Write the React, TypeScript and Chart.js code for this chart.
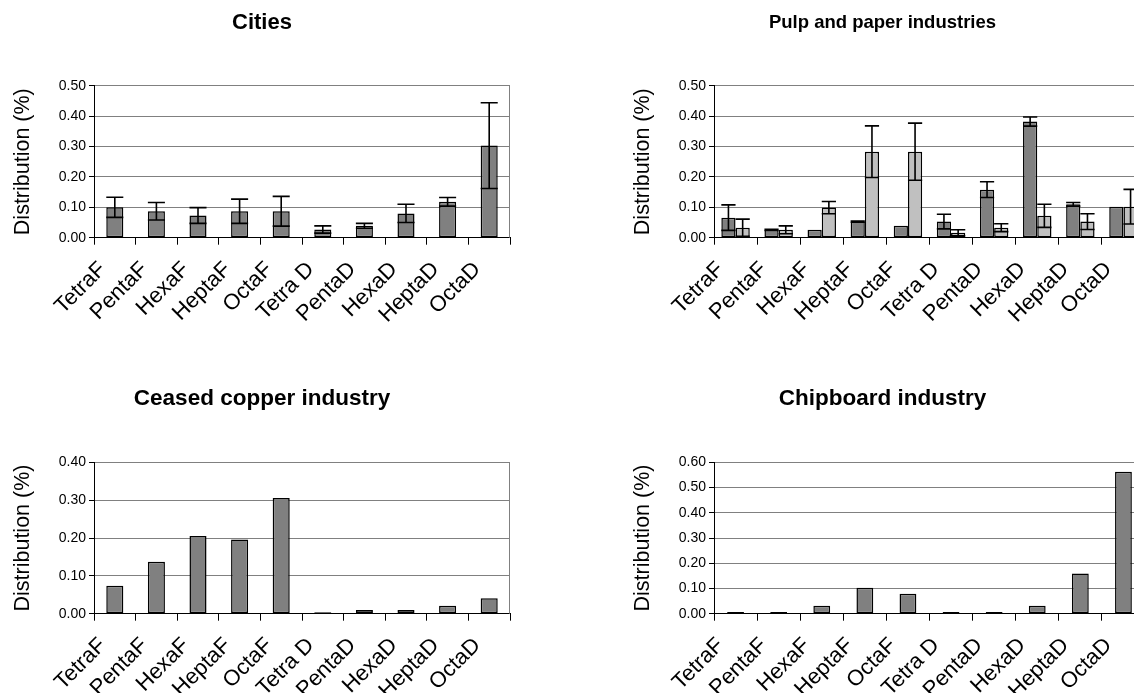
import React, { useEffect, useRef } from "react";
import { Chart, registerables } from "chart.js";

Chart.register(...registerables);

// ---------- data ----------
const categories = ["TetraF", "PentaF", "HexaF", "HeptaF", "OctaF", "Tetra D", "PentaD", "HexaD", "HeptaD", "OctaD"];

const citiesValues = [0.1, 0.087, 0.073, 0.087, 0.087, 0.027, 0.039, 0.08, 0.118, 0.303];
const citiesErrors = [0.033, 0.029, 0.026, 0.04, 0.049, 0.012, 0.008, 0.03, 0.014, 0.141];

const pulpSeriesA = [0.066, 0.026, 0.026, 0.053, 0.039, 0.053, 0.158, 0.382, 0.11, 0.102];
const pulpErrorsA = [0.042, 0.002, 0, 0.002, 0, 0.024, 0.026, 0.015, 0.006, 0];
const pulpSeriesB = [0.033, 0.026, 0.099, 0.283, 0.283, 0.016, 0.033, 0.072, 0.053, 0.102];
const pulpErrorsB = [0.028, 0.013, 0.02, 0.085, 0.094, 0.01, 0.013, 0.038, 0.026, 0.057];

const copperValues = [0.074, 0.137, 0.205, 0.196, 0.306, 0.004, 0.01, 0.01, 0.021, 0.041];

const chipboardValues = [0.007, 0.007, 0.032, 0.103, 0.079, 0.007, 0.007, 0.032, 0.159, 0.563];

const yAxisTitle = "Distribution (%)";

// ---------- styling ----------
const FONT = "'Liberation Sans', Arial, Helvetica, sans-serif";
const DARK = "#808080";
const LIGHT = "#C0C0C0";

const errorBarPlugin = {
  id: "errorBars",
  afterDatasetsDraw(chart: any) {
    const ctx = chart.ctx;
    const yScale = chart.scales.y;
    chart.data.datasets.forEach((ds: any, di: number) => {
      const errs: number[] | undefined = ds.errors;
      if (!errs) return;
      const meta = chart.getDatasetMeta(di);
      meta.data.forEach((bar: any, i: number) => {
        const e = errs[i];
        if (!e) return;
        const v = ds.data[i];
        const yTop = yScale.getPixelForValue(v + e);
        const yBot = yScale.getPixelForValue(Math.max(v - e, 0));
        const { x, width } = bar.getProps(["x", "width"], true);
        const half = width / 2;
        ctx.save();
        ctx.strokeStyle = "#000";
        ctx.lineWidth = 1.6;
        ctx.beginPath();
        ctx.moveTo(x, yTop);
        ctx.lineTo(x, yBot);
        ctx.moveTo(x - half, yTop);
        ctx.lineTo(x + half, yTop);
        ctx.moveTo(x - half, yBot);
        ctx.lineTo(x + half, yBot);
        ctx.stroke();
        ctx.restore();
      });
    });
  },
};

const plotBorderPlugin = {
  id: "plotBorder",
  beforeDatasetsDraw(chart: any) {
    const { ctx, chartArea } = chart;
    ctx.save();
    ctx.strokeStyle = "#808080";
    ctx.lineWidth = 1;
    const x = Math.round(chartArea.right) - 0.5;
    ctx.beginPath();
    ctx.moveTo(x, chartArea.top);
    ctx.lineTo(x, chartArea.bottom);
    ctx.stroke();
    ctx.restore();
  },
};

type PanelProps = {
  left: number;
  top: number;
  width: number;
  height: number;
  title: string;
  titleSize: number;
  titlePadTop: number;
  titlePadBottom: number;
  xAxisHeight: number;
  plotRightPad: number;
  labelOffset: number;
  yMax: number;
  datasets: any[];
  categoryPercentage: number;
  barPercentage: number;
};

function Panel(p: PanelProps) {
  const ref = useRef<HTMLCanvasElement | null>(null);
  useEffect(() => {
    if (!ref.current) return;
    const chart = new Chart(ref.current, {
      type: "bar",
      data: {
        labels: categories,
        datasets: p.datasets.map((d) => ({
          ...d,
          borderColor: "#000",
          borderWidth: 1.5,
          borderSkipped: false,
          categoryPercentage: p.categoryPercentage,
          barPercentage: p.barPercentage,
        })),
      },
      options: {
        responsive: false,
        animation: false,
        devicePixelRatio: 1,
        layout: { padding: 0 },
        plugins: {
          legend: { display: false },
          tooltip: { enabled: false },
          title: {
            display: true,
            text: p.title,
            color: "#000",
            font: { family: FONT, size: p.titleSize, weight: "bold" },
            padding: { top: p.titlePadTop, bottom: p.titlePadBottom },
          },
        },
        scales: {
          x: {
            type: "category",
            offset: true,
            afterFit: (scale: any) => {
              scale.height = p.xAxisHeight;
              scale.paddingRight = p.plotRightPad;
            },
            grid: {
              display: true,
              offset: true,
              drawOnChartArea: false,
              drawTicks: true,
              tickLength: 7,
              tickColor: "#000",
              color: "#000",
            },
            border: { display: true, color: "#000", width: 1 },
            ticks: {
              autoSkip: false,
              minRotation: 45,
              maxRotation: 45,
              padding: 12,
              labelOffset: p.labelOffset,
              color: "#000",
              font: { family: FONT, size: 22 },
            },
          },
          y: {
            min: 0,
            max: p.yMax,
            afterFit: (scale: any) => {
              scale.width = 94;
            },
            grid: {
              color: "#808080",
              lineWidth: 1,
              drawTicks: true,
              tickLength: 5,
              tickColor: "#000",
            },
            border: { display: true, color: "#000", width: 1 },
            ticks: {
              stepSize: 0.1,
              padding: 3,
              color: "#000",
              font: { family: FONT, size: 14 },
              callback: (v: any) => Number(v).toFixed(2),
            },
            title: {
              display: true,
              text: yAxisTitle,
              color: "#000",
              font: { family: FONT, size: 21.5 },
              padding: { top: 10, bottom: 0 },
            },
          },
        },
      },
      plugins: [plotBorderPlugin, errorBarPlugin],
    } as any);
    return () => chart.destroy();
  }, []);
  return (
    <canvas
      ref={ref}
      width={p.width}
      height={p.height}
      style={{ position: "absolute", left: p.left, top: p.top, width: p.width, height: p.height }}
    />
  );
}

export default function App() {
  return (
    <div
      style={{
        position: "fixed",
        left: 0,
        top: 0,
        width: 1134,
        height: 693,
        overflow: "hidden",
        background: "#fff",
      }}
    >
      <Panel
        left={0}
        top={0}
        width={524}
        height={346}
        title="Cities"
        titleSize={22}
        titlePadTop={9.3}
        titlePadBottom={50}
        xAxisHeight={108.3}
        plotRightPad={14}
        labelOffset={-12}
        yMax={0.5}
        categoryPercentage={1}
        barPercentage={0.41}
        datasets={[{ data: citiesValues, errors: citiesErrors, backgroundColor: DARK }]}
      />
      <Panel
        left={620}
        top={0}
        width={525}
        height={346}
        title="Pulp and paper industries"
        titleSize={18.5}
        titlePadTop={11.4}
        titlePadBottom={52.1}
        xAxisHeight={108.3}
        plotRightPad={0}
        labelOffset={-15}
        yMax={0.5}
        categoryPercentage={0.66}
        barPercentage={1}
        datasets={[
          { data: pulpSeriesA, errors: pulpErrorsA, backgroundColor: DARK },
          { data: pulpSeriesB, errors: pulpErrorsB, backgroundColor: LIGHT },
        ]}
      />
      <Panel
        left={0}
        top={346}
        width={524}
        height={347}
        title="Ceased copper industry"
        titleSize={22.5}
        titlePadTop={39.5}
        titlePadBottom={49.8}
        xAxisHeight={79.3}
        plotRightPad={14}
        labelOffset={-12}
        yMax={0.4}
        categoryPercentage={1}
        barPercentage={0.41}
        datasets={[{ data: copperValues, backgroundColor: DARK }]}
      />
      <Panel
        left={620}
        top={346}
        width={525}
        height={347}
        title="Chipboard industry"
        titleSize={22.5}
        titlePadTop={39.5}
        titlePadBottom={49.8}
        xAxisHeight={79.3}
        plotRightPad={0}
        labelOffset={-15}
        yMax={0.6}
        categoryPercentage={1}
        barPercentage={0.39}
        datasets={[{ data: chipboardValues, backgroundColor: DARK }]}
      />
    </div>
  );
}
